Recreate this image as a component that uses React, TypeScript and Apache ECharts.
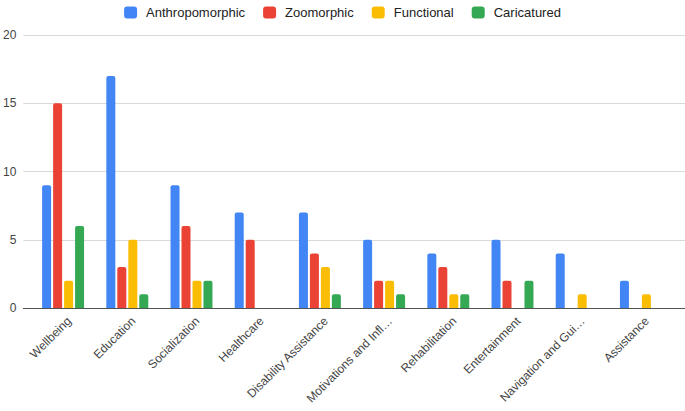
import React, { useEffect, useRef } from "react";
import * as echarts from "echarts";

const categories = [
  "Wellbeing",
  "Education",
  "Socialization",
  "Healthcare",
  "Disability Assistance",
  "Motivations and Infl…",
  "Rehabilitation",
  "Entertainment",
  "Navigation and Gui…",
  "Assistance",
];
const anthropomorphic = [9, 17, 9, 7, 7, 5, 4, 5, 4, 2];
const zoomorphic = [15, 3, 6, 5, 4, 2, 3, 2, 0, 0];
const functional = [2, 5, 2, 0, 3, 2, 1, 0, 1, 1];
const caricatured = [6, 1, 2, 0, 1, 1, 1, 2, 0, 0];
const yTicks = [0, 5, 10, 15, 20];

const seriesDefs = [
  { name: "Anthropomorphic", data: anthropomorphic, color: "#4285F4" },
  { name: "Zoomorphic", data: zoomorphic, color: "#EA4335" },
  { name: "Functional", data: functional, color: "#FBBC04" },
  { name: "Caricatured", data: caricatured, color: "#34A853" },
];

const FONT = "'Liberation Sans', Arial, sans-serif";

export default function App() {
  const ref = useRef<HTMLDivElement>(null);
  useEffect(() => {
    document.body.style.margin = "0";
    if (!ref.current) return;
    const chart = echarts.init(ref.current, null, { renderer: "svg" });
    const yMin = yTicks[0];
    const yMax = yTicks[yTicks.length - 1];
    const step = yTicks[1] - yTicks[0];
    chart.setOption({
      animation: false,
      textStyle: { fontFamily: FONT },
      legend: {
        top: 1,
        left: "center",
        itemWidth: 13,
        itemHeight: 12,
        itemGap: 18,
        icon: "roundRect",
        textStyle: {
          fontSize: 13,
          color: "#222",
          fontFamily: FONT,
          padding: [0, 0, 0, 4],
        },
        data: seriesDefs.map((s) => s.name),
      },
      grid: [
        { left: 22, right: 0, top: 35, bottom: 103 },
        { left: 31, right: 12, top: 35, bottom: 103 },
        { left: 37, right: 6, top: 35, bottom: 103 },
      ],
      xAxis: [
        {
          gridIndex: 0,
          type: "value",
          min: 0,
          max: 1,
          axisLine: { show: true, lineStyle: { color: "#555", width: 1 } },
          axisTick: { show: false },
          axisLabel: { show: false },
          splitLine: { show: false },
        },
        {
          gridIndex: 1,
          type: "category",
          data: categories,
          axisLine: { show: false },
          axisTick: { show: false },
          axisLabel: { show: false },
        },
        {
          gridIndex: 2,
          type: "category",
          data: categories,
          axisLine: { show: false },
          axisTick: { show: false },
          axisLabel: {
            interval: 0,
            rotate: 45,
            margin: 11,
            fontSize: 12,
            color: "#444",
            fontFamily: FONT,
          },
        },
      ],
      yAxis: [
        {
          gridIndex: 0,
          type: "value",
          min: yMin,
          max: yMax,
          interval: step,
          axisLine: { show: false },
          axisTick: { show: false },
          axisLabel: { margin: 7, fontSize: 12, color: "#444", fontFamily: FONT },
          splitLine: { show: true, lineStyle: { color: "#d9d9d9", width: 1 } },
        },
        {
          gridIndex: 1,
          type: "value",
          min: yMin,
          max: yMax,
          interval: step,
          show: false,
          splitLine: { show: false },
        },
        {
          gridIndex: 2,
          type: "value",
          min: yMin,
          max: yMax,
          interval: step,
          show: false,
          splitLine: { show: false },
        },
      ],
      series: seriesDefs.map((s) => ({
        name: s.name,
        type: "bar",
        xAxisIndex: 1,
        yAxisIndex: 1,
        data: s.data,
        barWidth: 9,
        barGap: "22%",
        itemStyle: { color: s.color, borderRadius: [2, 2, 0, 0] },
      })),
    });
    return () => chart.dispose();
  }, []);
  return <div ref={ref} style={{ width: 685, height: 411 }} />;
}
